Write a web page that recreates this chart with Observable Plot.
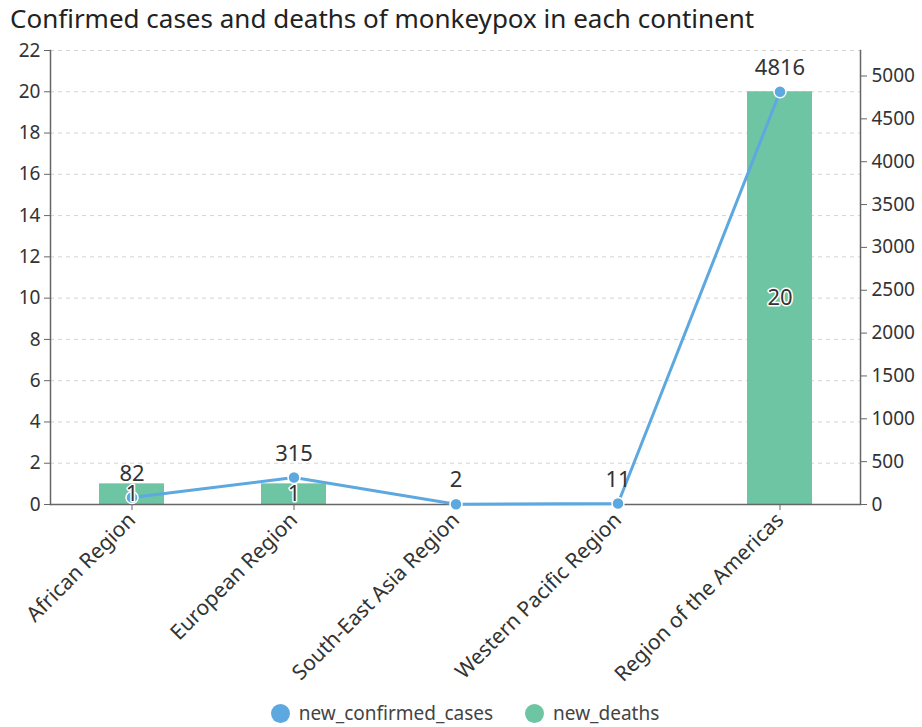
<!DOCTYPE html>
<html>
<head>
<meta charset="utf-8">
<script src="https://cdn.jsdelivr.net/npm/d3@7"></script>
<script src="https://cdn.jsdelivr.net/npm/@observablehq/plot@0.6"></script>
<style>
  body { margin: 0; background: #fff; font-family: "Noto Sans", sans-serif; }
  #title { height: 36px; line-height: 36px; padding-left: 10px; font-size: 26px; color: #222; white-space: nowrap; }
  #legend { display: flex; justify-content: center; align-items: center; gap: 32px; font-size: 19px; color: #444; height: 36px; padding-left: 8px; }
  .item { display: flex; align-items: center; gap: 9px; }
  .sw { width: 19px; height: 19px; border-radius: 50%; display: inline-block; }
  .xax text { font-size: 21px; }
</style>
</head>
<body>
<div id="title">Confirmed cases and deaths of monkeypox in each continent</div>
<div id="chart"></div>
<div id="legend"></div>
<script>
const regions = ["African Region", "European Region", "South-East Asia Region", "Western Pacific Region", "Region of the Americas"];
const newConfirmedCases = [82, 315, 2, 11, 4816];
const newDeaths = [1, 1, 0, 0, 20];
const leftTicks = [0, 2, 4, 6, 8, 10, 12, 14, 16, 18, 20, 22];
const rightTicks = [0, 500, 1000, 1500, 2000, 2500, 3000, 3500, 4000, 4500, 5000];
const seriesNames = ["new_confirmed_cases", "new_deaths"];
const colors = ["#5ea8e0", "#6dc5a3"];

const leftMax = 22;
const rightMax = d3.max(newConfirmedCases) * 1.1;
const k = leftMax / rightMax;

const data = regions.map((r, i) => ({region: r, cases: newConfirmedCases[i], deaths: newDeaths[i]}));
const barData = data.filter(d => d.deaths > 0);

const axisColor = "#666";
const textColor = "#333";

const chart = Plot.plot({
  width: 922,
  height: 659,
  marginTop: 14,
  marginBottom: 191,
  marginLeft: 50,
  marginRight: 62,
  style: {fontFamily: "Noto Sans, sans-serif", fontSize: "19px", color: textColor, background: "#fff"},
  x: {domain: regions, paddingInner: 0.6, paddingOuter: 0.3, label: null},
  y: {domain: [0, leftMax], label: null},
  marks: [
    Plot.gridY(leftTicks.filter(t => t > 0), {stroke: "#d4d4d4", strokeOpacity: 1, strokeDasharray: "4,4"}),
    Plot.barY(barData, {x: "region", y: "deaths", fill: colors[1]}),
    Plot.frame({anchor: "left", stroke: axisColor, strokeWidth: 1.5}),
    Plot.frame({anchor: "right", stroke: axisColor, strokeWidth: 1.5}),
    Plot.axisY({ticks: leftTicks, tickSize: 6, tickPadding: 4, stroke: axisColor, fill: textColor, label: null}),
    Plot.axisY({anchor: "right", ticks: rightTicks.map(v => v * k), tickFormat: d => String(Math.round(d / k)), tickSize: 6, tickPadding: 5, stroke: axisColor, fill: textColor, label: null}),
    Plot.ruleY([0], {stroke: axisColor, strokeWidth: 1.5}),
    Plot.axisX({tickRotate: -45, tickSize: 6, tickPadding: 6, stroke: axisColor, fill: textColor, label: null, className: "xax"}),
    Plot.lineY(data, {x: "region", y: d => d.cases * k, stroke: colors[0], strokeWidth: 3}),
    Plot.dot(data, {x: "region", y: d => d.cases * k, r: 6, fill: colors[0], stroke: "white", strokeWidth: 1.5}),
    Plot.text(data, {x: "region", y: d => d.cases * k, text: d => String(d.cases), dy: -24, fontSize: 22, fill: textColor}),
    Plot.text(barData, Plot.stackY({x: "region", y: "deaths", text: d => String(d.deaths), fontSize: 22, fill: textColor, stroke: "white", strokeWidth: 3}))
  ]
});

document.getElementById("chart").appendChild(chart);

const legend = document.getElementById("legend");
seriesNames.forEach((n, i) => {
  const it = document.createElement("div");
  it.className = "item";
  it.innerHTML = `<span class="sw" style="background:${colors[i]}"></span><span>${n}</span>`;
  legend.appendChild(it);
});
</script>
</body>
</html>
